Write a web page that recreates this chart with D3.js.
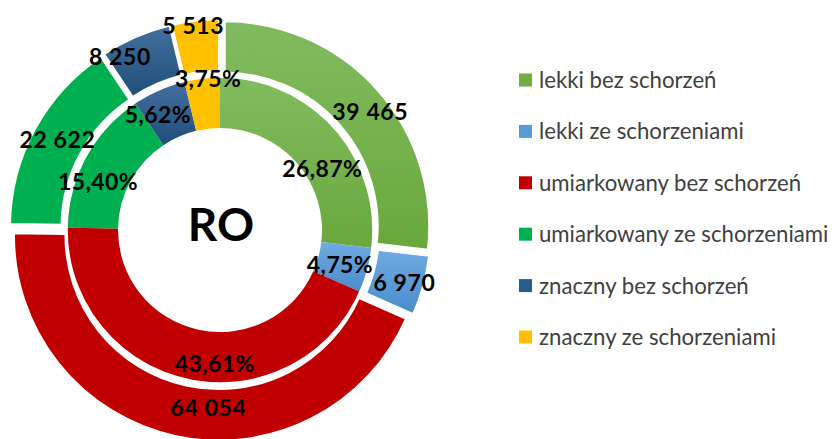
<!DOCTYPE html>
<html>
<head>
<meta charset="utf-8">
<script src="https://cdn.jsdelivr.net/npm/d3@7"></script>
<style>
html,body{margin:0;padding:0;background:#fff;}
svg{display:block;}
</style>
</head>
<body>
<svg id="chart" width="834" height="439"></svg>
<script>
// ---- data ----
const categories = [
  "lekki bez schorzeń",
  "lekki ze schorzeniami",
  "umiarkowany bez schorzeń",
  "umiarkowany ze schorzeniami",
  "znaczny bez schorzeń",
  "znaczny ze schorzeniami"
];
const values = [39465, 6970, 64054, 22622, 8250, 5513];
const centerTitle = "RO";

// ---- styles ----
const baseColors  = ["#6aa83d", "#4a8ccd", "#c00000", "#00b050", "#1f4e79", "#ffc000"];
const lightColors = ["#82bb5f", "#70aadf", "#c00000", "#00b050", "#44709f", "#ffc000"];
const legendColors = ["#70ad47", "#5b9bd5", "#c00000", "#00b050", "#255e91", "#ffc000"];
// label nudges (px) relative to arc centroid, to mimic the original placement
const innerNudge = [[7,23],[-3,1],[22,9],[-10,13],[-11,2],[3,-25]];
const outerNudge = [[12,5],[6,4],[28,-3],[0,-2],[-26,-4],[-5,-21]];

const cx = 220, cy = 230;
const rHole = 102, rMid = 153, rOut = 205, explode = 6;

const svg = d3.select("#chart");
const defs = svg.append("defs");
categories.forEach((c, i) => {
  const gr = defs.append("linearGradient")
    .attr("id", "grad" + i).attr("x1", 0).attr("y1", 0).attr("x2", 0).attr("y2", 1);
  gr.append("stop").attr("offset", "0%").attr("stop-color", lightColors[i]);
  gr.append("stop").attr("offset", "100%").attr("stop-color", baseColors[i]);
});

const total = d3.sum(values);
const loc = d3.formatLocale({decimal: ",", thousands: " ", grouping: [3], currency: ["", ""]});
const fmtNum = loc.format(",d");
const fmtPct = loc.format(".2%");

const pie = d3.pie().sort(null).value(d => d).startAngle(0).endAngle(2 * Math.PI);
const arcs = pie(values);

const arcInner = d3.arc().innerRadius(rHole).outerRadius(rMid);
const arcOuter = d3.arc().innerRadius(rMid).outerRadius(rOut);

const g = svg.append("g").attr("transform", `translate(${cx},${cy})`);

// inner ring
g.append("g").selectAll("path").data(arcs).join("path")
  .attr("d", arcInner)
  .attr("fill", (d, i) => `url(#grad${i})`)
  .attr("stroke", "none");

function explodeVec(d) {
  const a = (d.startAngle + d.endAngle) / 2;
  return [explode * Math.sin(a), -explode * Math.cos(a)];
}

// outer ring (exploded)
g.append("g").selectAll("path").data(arcs).join("path")
  .attr("d", arcOuter)
  .attr("transform", d => { const v = explodeVec(d); return `translate(${v[0]},${v[1]})`; })
  .attr("fill", (d, i) => `url(#grad${i})`)
  .attr("stroke", "#fff")
  .attr("stroke-width", 2.5)
  .attr("stroke-linejoin", "miter");

// white separator circle between rings
g.append("circle").attr("r", rMid + 0.5).attr("fill", "none").attr("stroke", "#fff").attr("stroke-width", 2.5);

const labelFont = "Lato, 'Open Sans', sans-serif";

// inner labels (percent)
g.append("g").selectAll("text").data(arcs).join("text")
  .attr("x", (d, i) => arcInner.centroid(d)[0] + innerNudge[i][0])
  .attr("y", (d, i) => arcInner.centroid(d)[1] + innerNudge[i][1])
  .attr("dy", "0.36em")
  .attr("text-anchor", "middle")
  .attr("font-family", labelFont)
  .attr("font-weight", 700)
  .attr("font-size", 23)
  .attr("letter-spacing", 0.4)
  .attr("fill", "#000")
  .text(d => fmtPct(d.data / total));

// outer labels (counts)
g.append("g").selectAll("text").data(arcs).join("text")
  .attr("x", (d, i) => { const c = arcOuter.centroid(d), v = explodeVec(d); return c[0] + v[0] + outerNudge[i][0]; })
  .attr("y", (d, i) => { const c = arcOuter.centroid(d), v = explodeVec(d); return c[1] + v[1] + outerNudge[i][1]; })
  .attr("dy", "0.36em")
  .attr("text-anchor", "middle")
  .attr("font-family", labelFont)
  .attr("font-weight", 700)
  .attr("font-size", 23)
  .attr("letter-spacing", 0.6)
  .attr("fill", "#000")
  .text(d => fmtNum(d.data));

// center title
g.append("text")
  .attr("x", 1).attr("y", 11)
  .attr("text-anchor", "middle")
  .attr("font-family", labelFont)
  .attr("font-weight", 700)
  .attr("font-size", 46)
  .attr("fill", "#000")
  .text(centerTitle);

// legend
const legY = d3.scalePoint().domain(categories).range([80, 337]);
const items = svg.append("g").selectAll("g").data(categories).join("g")
  .attr("transform", d => `translate(519,${legY(d)})`);
items.append("rect")
  .attr("x", 0).attr("y", -6.5).attr("width", 13).attr("height", 13)
  .attr("fill", (d, i) => legendColors[i]);
items.append("text")
  .attr("x", 20).attr("y", 0).attr("dy", "0.36em")
  .attr("font-family", labelFont)
  .attr("font-size", 22.2)
  .attr("fill", "#404040")
  .text(d => d);
</script>
</body>
</html>
